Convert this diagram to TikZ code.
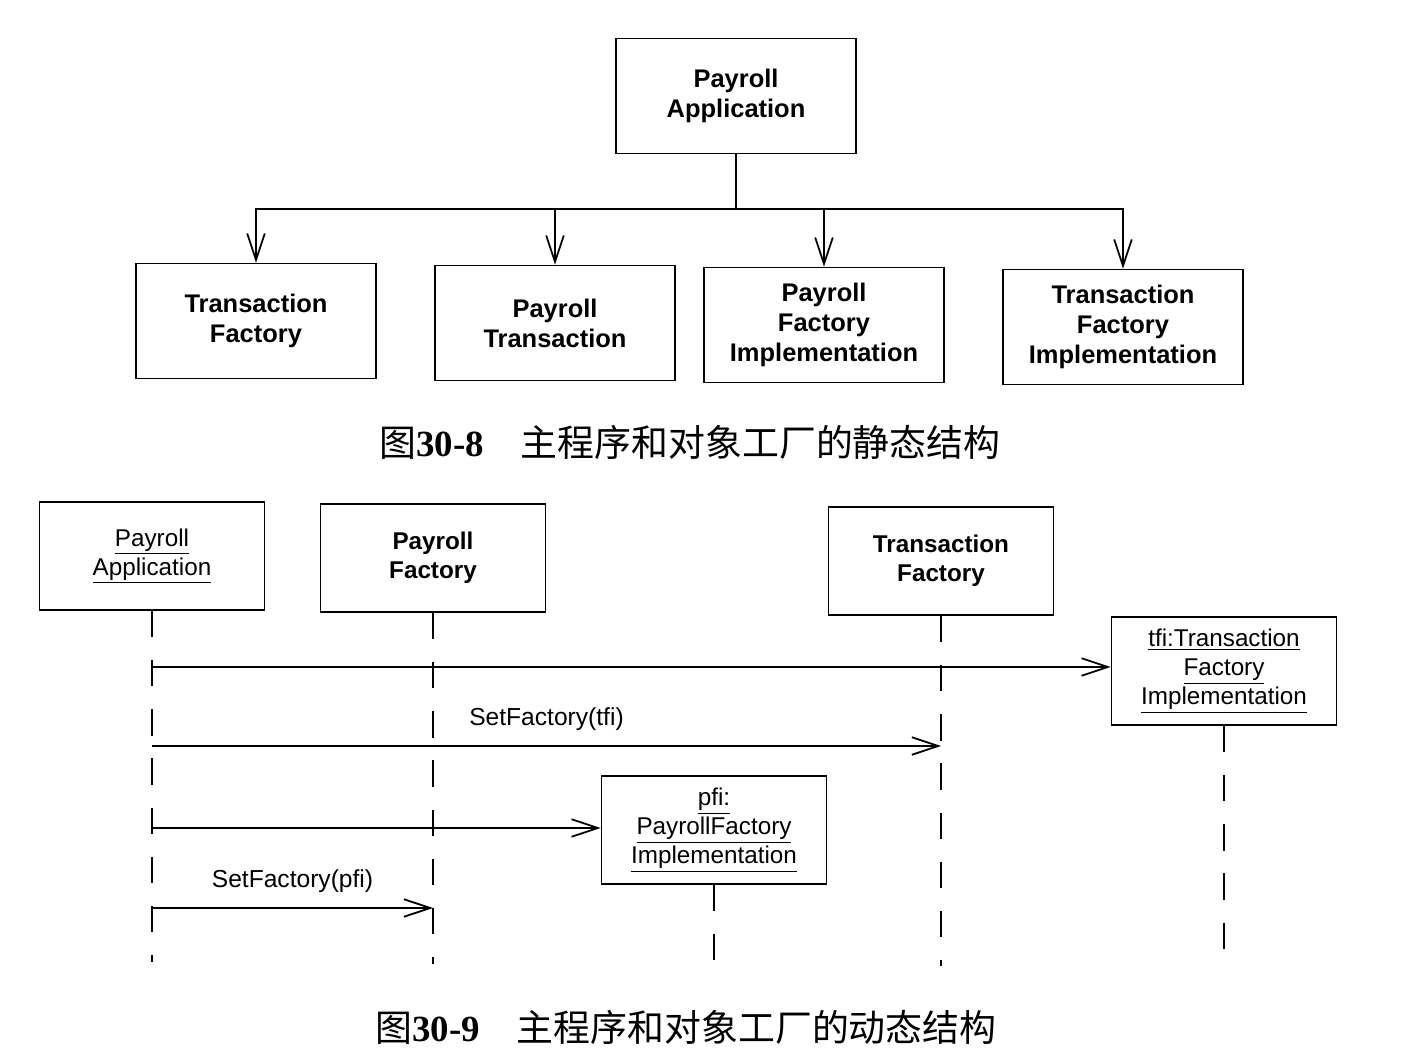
\documentclass[tikz,border=0pt]{standalone}
\usepackage{fontspec}
\setmainfont{Liberation Sans}
\newfontfamily\cjk{Noto Sans CJK SC}
\newfontfamily\capnum{Liberation Serif}
\usetikzlibrary{arrows.meta}

\tikzset{
  cls/.style={draw, line width=1pt, minimum width=4.8cm, minimum height=2.3cm,
    align=center, font=\bfseries\fontsize{14.5}{17}\selectfont},
  obj/.style={draw, line width=1pt, minimum width=4.5cm, minimum height=2.16cm,
    align=center, font=\fontsize{13.8}{16.5}\selectfont},
  objb/.style={obj, font=\bfseries\fontsize{13.8}{16.5}\selectfont},
  link/.style={line width=1pt},
  arr/.style={line width=1pt, -{Straight Barb[length=15pt,width=10pt]}},
  lifeline/.style={line width=0.8pt, dash pattern=on 15pt off 13pt},
  msglabel/.style={font=\fontsize{14}{16}\selectfont},
  caption/.style={font=\cjk\fontsize{21}{25}\selectfont}
}

\begin{document}
\begin{tikzpicture}[x=0.02cm, y=-0.02cm]
\useasboundingbox (0,0) rectangle (1404,1060);

% static structure
\node[cls] (app) at (736,96) {Payroll\\Application};
\node[cls] (tf) at (256,321) {Transaction\\Factory};
\node[cls] (pt) at (555,323) {Payroll\\Transaction};
\node[cls] (pfi) at (824,325) {Payroll\\Factory\\Implementation};
\node[cls] (tfi) at (1123,327) {Transaction\\Factory\\Implementation};

\coordinate (J) at (736,209);
\draw[link] (app) -- (J);
\foreach \n in {tf,pt,pfi,tfi}
  \draw[arr] (J) -| (\n);

\node[caption] (cap1) at (690,442) {图{\capnum\bfseries 30-8}\quad 主程序和对象工厂的静态结构};

% dynamic structure
\node[obj] (bapp) at (152,556) {\underline{Payroll}\\\underline{Application}};
\node[objb] (bpf) at (433,558) {Payroll\\Factory};
\node[objb] (btf) at (941,561) {Transaction\\Factory};
\node[obj] (btfi) at (1224,671) {\underline{tfi:Transaction}\\\underline{Factory}\\\underline{Implementation}};
\node[obj] (bpfi) at (714,830) {\underline{pfi:}\\\underline{PayrollFactory}\\\underline{Implementation}};

% lifelines
\coordinate (appEnd) at (bapp.south |- 0,962);
\coordinate (pfEnd) at (bpf.south |- 0,964);
\coordinate (tfEnd) at (btf.south |- 0,966);
\coordinate (tfiEnd) at (btfi.south |- 0,968);
\coordinate (pfiEnd) at (bpfi.south |- 0,966);
\draw[lifeline] (bapp) -- (appEnd);
\draw[lifeline] (bpf) -- (pfEnd);
\draw[lifeline] (btf) -- (tfEnd);
\draw[lifeline] (btfi) -- (tfiEnd);
\draw[lifeline] (bpfi) -- (pfiEnd);

% messages
\coordinate (m1) at (bapp.south |- 0,667);
\coordinate (m2) at (bapp.south |- 0,746);
\coordinate (m3) at (bapp.south |- 0,828);
\coordinate (m4) at (bapp.south |- 0,908);
\draw[arr] (m1) -- (m1 -| btfi.west);
\draw[arr] (m2) -- (m2 -| btf.south) node[msglabel, midway, above=5pt] {SetFactory(tfi)};
\draw[arr] (m3) -- (m3 -| bpfi.west);
\draw[arr] (m4) -- (m4 -| bpf.south) node[msglabel, midway, above=5pt] {SetFactory(pfi)};

\node[caption] (cap2) at (686,1027) {图{\capnum\bfseries 30-9}\quad 主程序和对象工厂的动态结构};
\end{tikzpicture}
\end{document}
